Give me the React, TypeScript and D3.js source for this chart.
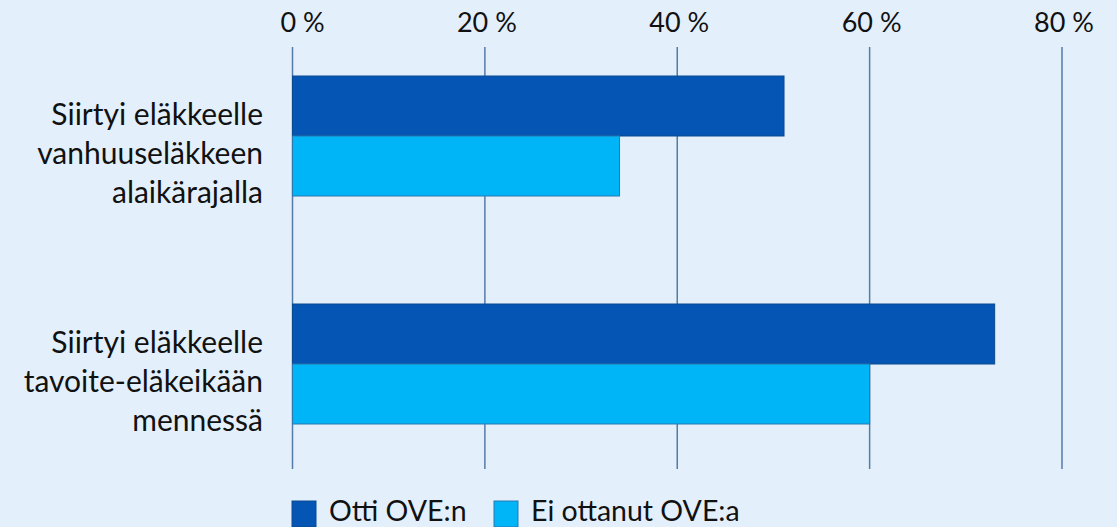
import React from "react";
import * as d3 from "d3";

const categories = [
  ["Siirtyi eläkkeelle", "vanhuuseläkkeen", "alaikärajalla"],
  ["Siirtyi eläkkeelle", "tavoite-eläkeikään", "mennessä"],
];
const seriesNames = ["Otti OVE:n", "Ei ottanut OVE:a"];
const ottiValues = [51.1, 73.0];
const eiOttanutValues = [34.0, 60.0];
const xTicks = [0, 20, 40, 60, 80];
const tickLabels = ["0 %", "20 %", "40 %", "60 %", "80 %"];

const W = 1117;
const H = 527;
const FONT = "Lato, 'Noto Sans', sans-serif";
const fills = ["#0455B4", "#00B4F8"];
const strokes = ["#0B4A8F", "#2A78B0"];

export default function App() {
  const x = d3.scaleLinear().domain([0, 80]).range([292.5, 1062]);
  const y = d3.scaleBand<number>().domain([0, 1]).range([22, 478]).padding(0);
  const inner = d3.scaleBand<number>().domain([0, 1]).range([54, 174]).padding(0);
  const series = [ottiValues, eiOttanutValues];
  const gridTop = 47;
  const gridBottom = 469;

  return (
    <svg
      width={W}
      height={H}
      style={{ position: "absolute", left: 0, top: 0, display: "block" }}
      fontFamily={FONT}
    >
      <rect x={0} y={0} width={W} height={H} fill="#E3F0FB" />
      {xTicks.map((t, i) => (
        <g key={t}>
          <line
            x1={x(t)}
            x2={x(t)}
            y1={gridTop}
            y2={gridBottom}
            stroke="#557CA6"
            strokeWidth={1.5}
          />
          <text
            x={x(t)}
            dx={i === 0 ? 10 : 2}
            y={32}
            textAnchor="middle"
            fontSize={27}
            fill="#111"
          >
            {tickLabels[i]}
          </text>
        </g>
      ))}
      {categories.map((cat, ci) => (
        <g key={ci}>
          {series.map((vals, si) => (
            <rect
              key={si}
              x={x(0)}
              y={(y(ci) as number) + (inner(si) as number)}
              width={x(vals[ci]) - x(0)}
              height={inner.bandwidth()}
              fill={fills[si]}
              stroke={strokes[si]}
              strokeWidth={1}
            />
          ))}
          {cat.map((line, li) => (
            <text
              key={li}
              x={263}
              y={(y(ci) as number) + y.bandwidth() / 2 + 27.5 + (li - 1) * 39}
              textAnchor="end"
              fontSize={30}
              fill="#111"
            >
              {line}
            </text>
          ))}
        </g>
      ))}
      {seriesNames.map((name, i) => {
        const lx = [292, 494][i];
        return (
          <g key={name}>
            <rect
              x={lx}
              y={501}
              width={24}
              height={26}
              fill={fills[i]}
              stroke={strokes[i]}
              strokeWidth={1}
            />
            <text x={lx + 37} y={521} fontSize={28.5} fill="#111">
              {name}
            </text>
          </g>
        );
      })}
    </svg>
  );
}
